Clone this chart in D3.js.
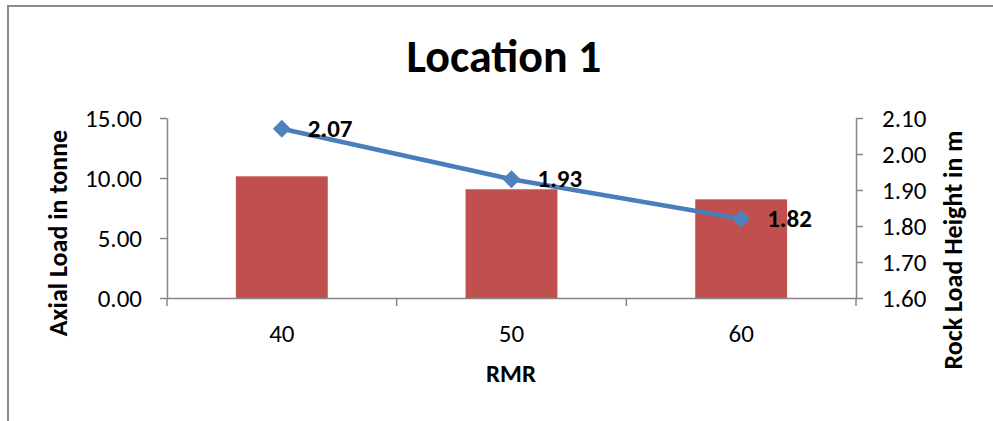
<!DOCTYPE html>
<html>
<head>
<meta charset="utf-8">
<script src="https://cdn.jsdelivr.net/npm/d3@7"></script>
<style>
  html, body { margin: 0; padding: 0; background: #fff; }
  svg { display: block; font-family: Carlito, Calibri, Lato, sans-serif; }
</style>
</head>
<body>
<svg id="chart" width="993" height="421"></svg>
<script>
// Chart data
const categories = ["40", "50", "60"];          // RMR
const axialLoad = [10.14, 9.06, 8.22];          // tonne (bars, left axis)
const rockLoadHeight = [2.07, 1.93, 1.82];      // m (line, right axis)
const leftTicks = [0, 5, 10, 15];
const rightTicks = [1.6, 1.7, 1.8, 1.9, 2.0, 2.1];

const svg = d3.select("#chart");
const axisColor = "#868686";
const fontStack = "Carlito, Calibri, Lato, sans-serif";

// Plot area
const plot = { left: 167, right: 856, top: 118, bottom: 298 };

// Outer frame
svg.append("path")
  .attr("d", `M8,421 V6 H993`)
  .attr("fill", "none")
  .attr("stroke", "#8c8c8c")
  .attr("stroke-width", 2);

// Scales
const x = d3.scaleBand()
  .domain(categories)
  .range([plot.left, plot.right])
  .paddingInner(0.6)
  .paddingOuter(0.3);

const yLeft = d3.scaleLinear().domain([0, 15]).range([plot.bottom, plot.top]);
const yRight = d3.scaleLinear().domain([1.6, 2.1]).range([plot.bottom, plot.top]);

// Title
svg.append("text")
  .attr("x", 504).attr("y", 72)
  .attr("text-anchor", "middle")
  .attr("font-size", 46).attr("font-weight", "bold")
  .attr("fill", "#000")
  .text("Location 1");

// Bars
svg.append("g").selectAll("rect")
  .data(categories.map((c, i) => ({ c, v: axialLoad[i] })))
  .join("rect")
  .attr("x", d => x(d.c))
  .attr("y", d => yLeft(d.v))
  .attr("width", x.bandwidth())
  .attr("height", d => yLeft(0) - yLeft(d.v))
  .attr("fill", "#C0504D");

// Axes
function styleAxis(g) {
  g.select(".domain").attr("stroke", axisColor).attr("stroke-width", 1.5);
  g.selectAll(".tick line").attr("stroke", axisColor).attr("stroke-width", 1.5);
  g.selectAll(".tick text").attr("fill", "#000").attr("font-size", 25)
    .attr("font-family", fontStack);
}

const gLeft = svg.append("g")
  .attr("transform", `translate(${plot.left},0)`)
  .call(d3.axisLeft(yLeft).tickValues(leftTicks).tickFormat(d3.format(".2f"))
    .tickSizeInner(7).tickSizeOuter(0).tickPadding(18));
styleAxis(gLeft);

const gRight = svg.append("g")
  .attr("transform", `translate(${plot.right},0)`)
  .call(d3.axisRight(yRight).tickValues(rightTicks).tickFormat(d3.format(".2f"))
    .tickSizeInner(7).tickSizeOuter(0).tickPadding(19));
styleAxis(gRight);

// Category axis: ticks sit on the boundaries between categories
const gBottom = svg.append("g")
  .attr("transform", `translate(0,${plot.bottom})`)
  .call(d3.axisBottom(x).tickSize(0));
styleAxis(gBottom);
gBottom.selectAll(".tick text").attr("y", 44).attr("dy", 0);
const step = x.step();
const boundaries = d3.range(categories.length + 1).map(i => plot.left + i * step);
gBottom.selectAll("line.sep")
  .data(boundaries)
  .join("line")
  .attr("class", "sep")
  .attr("x1", d => d).attr("x2", d => d)
  .attr("y1", 0).attr("y2", 8)
  .attr("stroke", axisColor).attr("stroke-width", 1.5);

// Line series
const cx = c => x(c) + x.bandwidth() / 2;
const lineData = categories.map((c, i) => ({ c, v: rockLoadHeight[i] }));
svg.append("path")
  .datum(lineData)
  .attr("fill", "none")
  .attr("stroke", "#4A7EBB")
  .attr("stroke-width", 4.5)
  .attr("stroke-linejoin", "round")
  .attr("d", d3.line().x(d => cx(d.c)).y(d => yRight(d.v)));

svg.append("g").selectAll("path")
  .data(lineData)
  .join("path")
  .attr("transform", d => `translate(${cx(d.c)},${yRight(d.v)}) rotate(45)`)
  .attr("d", d3.symbol(d3.symbolSquare, 160))
  .attr("fill", "#4F81BD");

// Data labels
svg.append("g").selectAll("text")
  .data(lineData)
  .join("text")
  .attr("x", d => cx(d.c) + 26)
  .attr("y", d => yRight(d.v) + 8)
  .attr("font-size", 25).attr("font-weight", "bold")
  .attr("fill", "#000")
  .text(d => d3.format(".2f")(d.v));

// Axis titles
svg.append("text")
  .attr("transform", `translate(67,233) rotate(-90)`)
  .attr("text-anchor", "middle")
  .attr("font-size", 26).attr("font-weight", "bold")
  .text("Axial Load in tonne");

svg.append("text")
  .attr("transform", `translate(962,250) rotate(-90)`)
  .attr("text-anchor", "middle")
  .attr("font-size", 26).attr("font-weight", "bold")
  .text("Rock Load Height in m");

svg.append("text")
  .attr("x", 511).attr("y", 382)
  .attr("text-anchor", "middle")
  .attr("font-size", 25).attr("font-weight", "bold")
  .text("RMR");
</script>
</body>
</html>
